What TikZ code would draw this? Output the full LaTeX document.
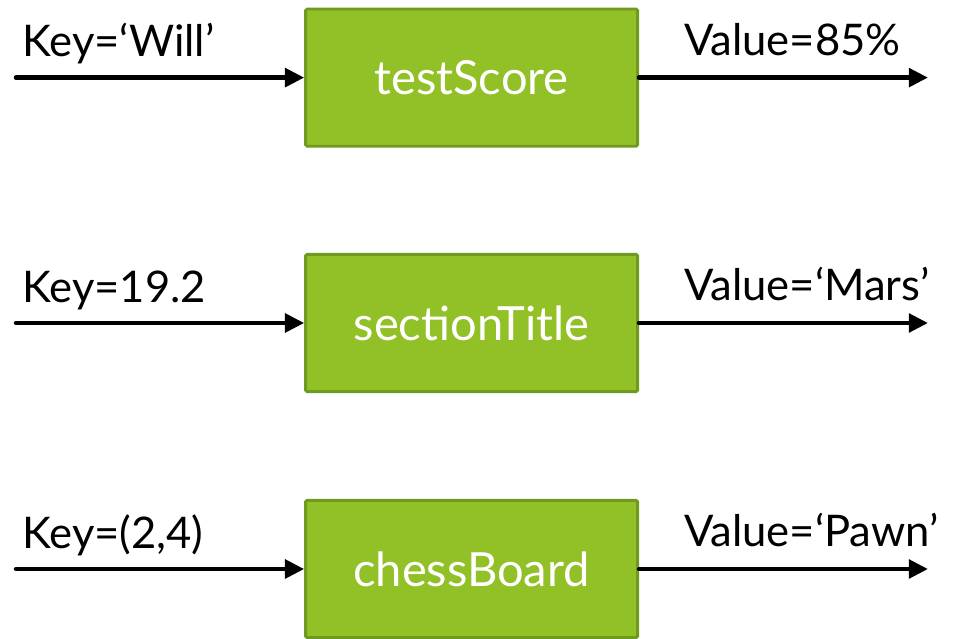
\documentclass[tikz,border=0pt]{standalone}
\usepackage{fontspec}
\setmainfont{Lato}
\usetikzlibrary{arrows.meta}
\definecolor{boxfill}{HTML}{92C027}
\definecolor{boxedge}{HTML}{6E9A1E}
\tikzset{
    mapbox/.style={draw=boxedge, fill=boxfill, line width=2pt, rounded corners=1pt, minimum width=8.3cm, minimum height=3.43cm, text=white, font=\fontsize{33.5}{38}\selectfont},
    flow/.style={line width=3.2pt, line cap=round, -{Triangle[length=0.48cm,width=0.46cm]}},
    lbl/.style={font=\fontsize{31}{36}\selectfont, anchor=base west, inner sep=0pt}
}
\begin{document}
\begin{tikzpicture}
                \useasboundingbox (0,0) rectangle (24.3,15.95);
                \node[mapbox] (testScore) at (11.79,14.01) {testScore};
                \node[mapbox] (sectionTitle) at (11.79,7.875) {sectionTitle};
                \node[mapbox] (chessBoard) at (11.79,1.725) {chessBoard};
                \coordinate (in1) at (0.4,14.01);
                \coordinate (in2) at (0.4,7.875);
                \coordinate (in3) at (0.4,1.725);
                \coordinate (out1) at (23.2,14.01);
                \coordinate (out2) at (23.2,7.875);
                \coordinate (out3) at (23.2,1.725);
                \draw[flow] (in1) -- (testScore);
                \draw[flow] (testScore) -- (out1);
                \draw[flow] (in2) -- (sectionTitle);
                \draw[flow] (sectionTitle) -- (out2);
                \draw[flow] (in3) -- (chessBoard);
                \draw[flow] (chessBoard) -- (out3);
                \node[lbl] (key1) at (0.55,14.53) {Key=‘Will’};
                \node[lbl] (key2) at (0.55,8.395) {Key=19.2};
                \node[lbl] (key3) at (0.55,2.245) {Key=(2,4)};
                \node[lbl] (val1) at (17.1,14.57) {Value=85\%};
                \node[lbl] (val2) at (17.1,8.435) {Value=‘Mars’};
                \node[lbl] (val3) at (17.1,2.285) {Value=‘Pawn’};
            \end{tikzpicture}
\end{document}
